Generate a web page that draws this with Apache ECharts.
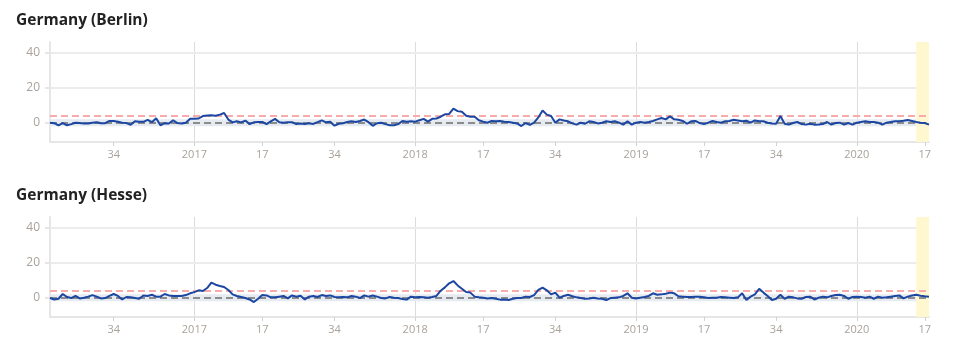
<!DOCTYPE html>
<html><head><meta charset="utf-8">
<script src="https://cdn.jsdelivr.net/npm/echarts@6/dist/echarts.min.js"></script>
<style>html,body{margin:0;padding:0;background:#fff}#c{width:955px;height:347px}</style>
</head><body><div id="c"></div>
<script>
// ---- data ----
const years = [2016, 2017, 2018, 2019, 2020];
const firstWeek = 19;   // first ISO week shown in first year
const lastWeek = 18;    // last ISO week shown in last year
const weeksInYear = [52, 52, 52, 52, 53];
const labelWeeks = [17, 34];
const yTickValues = [0, 20, 40];
const titles = ['Germany (Berlin)', 'Germany (Hesse)'];
const normalBand = [-2, 2];
const thresholdLine = 4;
const delayedFrom = '2020-W15';

const berlin = [
  0, -0.3, -1.5, -0.2, -1.5, -0.8, 0, -0.2, -0.5, -0.5,
  0, 0.3, -0.3, -0.3, 1, 1, 0.5, 0, -0.2, -1.2,
  0.8, 0.5, 0.5, 1.6, 0.3, 2.5, -1.5, -0.3, -0.5, 1.4,
  -0.2, -0.5, 0, 2.2, 2.2, 2.4, 3.8, 4.1, 4.2, 4,
  4.6, 5.5, 1.8, 0.2, 0.8, 0.2, 1.2, -0.8, 0.2, 0.4,
  0.4, -0.8, 0.8, 2.2, 0.3, 0, 0.3, 0.3, -0.8, -0.5,
  -0.7, -0.3, -0.7, 0.3, 1.3, 0.2, 0.5, -1.7, -0.6, -0.3,
  0.4, 0.8, 0.4, 1, 1.8, 0.3, -1.8, -0.3, 0, -0.8,
  -1.4, -1.4, -0.8, 1, 0.6, 0.8, 0.6, 1.4, 2.2, 0.6,
  2.2, 2.4, 3.4, 4.8, 5, 8, 6.6, 6.2, 4, 3.4,
  3.4, 1.4, 0.6, 0, 1, 0.8, 1, 0.6, 0.4, 0,
  -0.4, -1.9, -0.2, -1.2, 0, 3, 6.9, 4.6, 3.8, 0,
  1.9, 1.3, 0.8, -0.4, -1.1, 0, -0.6, 0.8, 0.4, -0.4,
  0, 0.8, 0.4, 0.8, 0, -1.1, 0.8, -1.1, 0, 0.4,
  0, 0.4, 1, 1.9, 2.7, 1.9, 3.6, 1.9, 1.7, 1,
  -0.6, 0.8, 1, -0.2, -0.8, 0, 1, 0.4, 0, 0.8,
  1, 1.7, 1.3, 0.8, 1.1, 0, 1.3, 0.8, 0.8, 0,
  -0.4, -0.6, 3.8, -0.6, -1.1, -0.2, 0.4, -0.8, -1.1, -0.6,
  -1.1, -1, -0.8, 0.4, -1.1, -0.2, 0, -1.1, -0.2, -1.1,
  0, 0.4, 0.8, 0.4, 0.4, 0, -1.1, 0, 0.4, 0.8,
  0.8, 1.1, 1.5, 1, 0.4, 0, -0.2, -1.1
];
const hesse = [
  -0.2, -1, -0.6, 2.1, 0.4, -0.2, 1, -0.4, 0, 0.6,
  1.5, 0.6, -0.4, -0.2, 1, 2.1, 1, -1, 0.4, 0.2,
  -0.2, -0.6, 1.3, 1, 1.7, 0.6, 0.6, 2.1, 1.3, 1,
  1, 1, 1.5, 2.5, 3.2, 4.2, 3.8, 5.5, 8.6, 7.4,
  6.7, 6.1, 4.4, 1.9, 1, 0.4, -0.2, -1, -2.5, -0.6,
  1.5, 1.3, 0.2, 0.2, 0.6, 1, -0.4, 1.3, 0.6, 1.1,
  -1, 0.6, 1, 0.4, 1.5, 1, 1.3, 0.4, 0.2, 0.4,
  0.2, 1, 0.6, -0.2, 1.3, 0.6, 1.3, 0.6, -0.2, -0.4,
  0.4, 0, -0.2, -0.8, -1.1, 0.6, 0.2, 0.4, 0.2, 0,
  0.4, 1, 4, 5.9, 8.2, 9.5, 7, 5.1, 3.2, 2.9,
  0.6, 0.2, 0, -0.4, -0.2, -0.6, -1.1, -1, -1.3, -0.6,
  -0.2, -0.2, 0.6, 0.4, 1.5, 4.4, 5.7, 4.2, 1.9, 2.9,
  0, 1, 1.7, 0.8, 0.2, -0.2, -0.6, -0.4, 0, -0.4,
  -0.6, -1.3, -0.2, 0, 0.2, 1, 2.5, 0, -0.4, 0,
  0.4, 1, 2.5, 1.7, 1.9, 2.3, 2.9, 2.5, 0.8, 0.6,
  0.4, 0.4, 0.6, 0.6, 0.2, -0.2, 0, 0, 0.4, 0.2,
  0, -0.2, 0.2, 2.5, -1.3, 0.6, 1.9, 5.1, 2.9, 1,
  -1.3, -0.6, 1.7, -0.6, 0.6, 0.2, -0.4, -0.6, 0.4, 0.6,
  -1, 0, 0.6, 0.2, 1, 1.5, 1.7, 1, -0.6, 0.4,
  0.6, 0.4, 0, 0.6, -0.6, 0.6, 0, 0.2, 0.6, 1,
  1.3, -0.4, 0.6, 1.3, 1.7, 1.1, 0.8, 0.6
];
const seriesData = [berlin, hesse];

// ---- categories (year-week) ----
const categories = [];
years.forEach((y, k) => {
  const from = k === 0 ? firstWeek : 1;
  const to = k === years.length - 1 ? lastWeek : weeksInYear[k];
  for (let w = from; w <= to; w++) categories.push(y + '-W' + w);
});
const weekOf = v => parseInt(v.split('-W')[1], 10);
const yearOf = v => v.split('-W')[0];
const isLabelled = v => { const w = weekOf(v); return w === 1 || labelWeeks.indexOf(w) >= 0; };

const chart = echarts.init(document.getElementById('c'), null, {renderer: 'canvas'});
const font = '"Open Sans", sans-serif';
const labelColor = '#a9a29b';
const gridColor = '#ececec';
const axisColor = '#e6e6e6';

const tops = [42, 217];
const option = {
  animation: false,
  backgroundColor: '#fff',
  textStyle: {fontFamily: font},
  title: titles.map((t, i) => ({
    text: t, left: 16, top: tops[i] - 29, padding: 0,
    textStyle: {fontFamily: font, fontSize: 15.5, fontWeight: 'bold', color: '#222'}
  })),
  grid: tops.map(t => ({left: 50, top: t, width: 879, height: 100})),
  xAxis: tops.map((t, i) => ({
    type: 'category', gridIndex: i, data: categories, boundaryGap: false,
    axisLine: {onZero: false, lineStyle: {color: axisColor, width: 2}},
    axisTick: {show: true, interval: (idx, v) => isLabelled(v), length: 4, lineStyle: {color: '#d2d2d2'}},
    axisLabel: {
      interval: (idx, v) => isLabelled(v), margin: 7,
      color: labelColor, fontSize: 11, fontFamily: font,
      formatter: v => weekOf(v) === 1 ? yearOf(v) : String(weekOf(v))
    },
    splitLine: {show: true, interval: (idx, v) => weekOf(v) === 1, lineStyle: {color: '#dcdcdc', width: 1}}
  })),
  yAxis: tops.map((t, i) => ({
    type: 'value', gridIndex: i, min: -11, max: 46,
    axisLine: {show: true, lineStyle: {color: axisColor, width: 2}},
    axisTick: {show: true, length: 5, customValues: yTickValues, lineStyle: {color: axisColor, width: 2}},
    axisLabel: {customValues: yTickValues, margin: 10, color: labelColor, fontSize: 12, fontFamily: font},
    splitLine: {show: false}
  })),
  series: []
};
seriesData.forEach((d, i) => {
  // horizontal grid lines at tick values
  option.series.push({
    type: 'line', xAxisIndex: i, yAxisIndex: i, data: d, z: 0, silent: true,
    symbol: 'none', lineStyle: {opacity: 0, width: 0},
    markLine: {
      silent: true, symbol: 'none', label: {show: false}, z: 0,
      data: yTickValues.map(v => ({yAxis: v, lineStyle: {color: gridColor, type: 'solid', width: 2}}))
    }
  });
  option.series.push({
    type: 'line', xAxisIndex: i, yAxisIndex: i, data: d, z: 1, silent: true,
    symbol: 'none', lineStyle: {opacity: 0, width: 0},
    markArea: {
      silent: true, z: 1,
      data: [
        [{yAxis: normalBand[0], itemStyle: {color: '#e6ebf1'}}, {yAxis: normalBand[1]}],
        [{xAxis: delayedFrom, itemStyle: {color: '#fff7cf'}}, {xAxis: categories[categories.length - 1]}]
      ]
    },
    markLine: {
      silent: true, symbol: 'none', label: {show: false}, z: 2,
      data: [
        {yAxis: 0, lineStyle: {color: '#8c8c8c', type: [7, 4], width: 2}},
        {yAxis: thresholdLine, lineStyle: {color: '#f7abab', type: [7, 4], width: 2}}
      ]
    }
  });
  option.series.push({
    type: 'line', xAxisIndex: i, yAxisIndex: i, data: d, z: 10,
    symbol: 'none', showSymbol: false,
    lineStyle: {color: '#1b47a3', width: 2}
  });
});
chart.setOption(option);
</script></body></html>
